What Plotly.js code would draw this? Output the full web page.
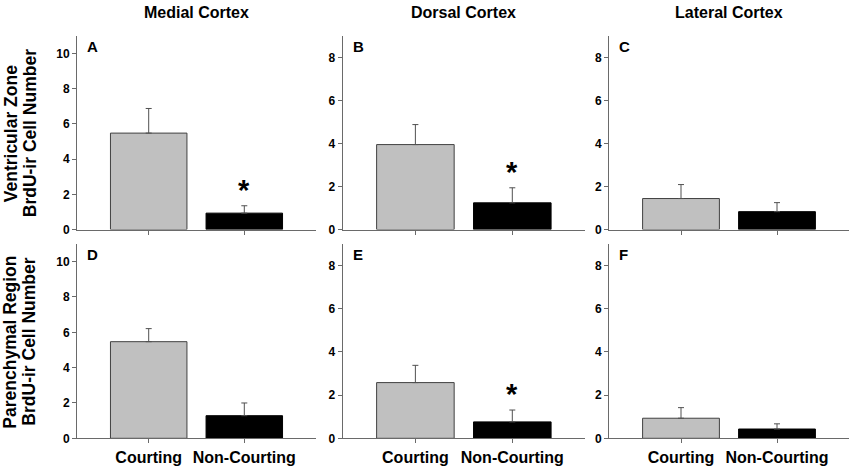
<!DOCTYPE html>
<html>
<head>
<meta charset="utf-8">
<script src="https://cdn.plot.ly/plotly-3.0.1.min.js"></script>
<style>
  html, body { margin: 0; padding: 0; background: #fff; }
  #chart { width: 851px; height: 468px; }
</style>
</head>
<body>
<div id="chart"></div>
<script>
// groups on the x axis
var categories = ["Courting", "Non-Courting"];
var regions = ["Medial Cortex", "Dorsal Cortex", "Lateral Cortex"];
var rowTitles = [
  ["Ventricular Zone", "BrdU-ir Cell Number"],
  ["Parenchymal Region", "BrdU-ir Cell Number"]
];
var panelLetters = ["A", "B", "C", "D", "E", "F"];

// mean BrdU-ir cell number and SEM
var meanA = [5.48, 0.93], errA = [1.40, 0.42];
var meanB = [3.95, 1.24], errB = [0.93, 0.70];
var meanC = [1.44, 0.83], errC = [0.65, 0.42];
var meanD = [5.47, 1.28], errD = [0.74, 0.72];
var meanE = [2.58, 0.76], errE = [0.80, 0.55];
var meanF = [0.93, 0.43], errF = [0.49, 0.24];

var sigA = [false, true], sigB = [false, true], sigC = [false, false];
var sigD = [false, false], sigE = [false, true], sigF = [false, false];

var yMax = [11, 9, 9, 11, 9, 9];

var means = [meanA, meanB, meanC, meanD, meanE, meanF];
var errs = [errA, errB, errC, errD, errE, errF];
var sigs = [sigA, sigB, sigC, sigD, sigE, sigF];

var W = 851, H = 468;
var colPx = [[77, 316], [342.7, 585], [609, 849]];
var rowPx = [[36, 229.5], [244, 438.3]];
var FONT = "Liberation Sans, Arial, sans-serif";
var AXIS_COLOR = "#6a6a6a";
var barColors = ["#c0c0c0", "#000000"];
var barLines = ["#404040", "#000000"];

var traces = [];
var layout = {
  width: W, height: H,
  margin: { t: 0, b: 0, l: 0, r: 0 },
  paper_bgcolor: "#ffffff",
  plot_bgcolor: "#ffffff",
  showlegend: false,
  font: { family: FONT, color: "#000" },
  annotations: []
};

for (var i = 0; i < 6; i++) {
  var r = Math.floor(i / 3), c = i % 3;
  var sfx = i === 0 ? "" : String(i + 1);
  traces.push({
    type: "bar",
    x: categories,
    y: means[i],
    xaxis: "x" + sfx,
    yaxis: "y" + sfx,
    width: 0.8,
    marker: { color: barColors, line: { color: barLines, width: 1 } },
    error_y: {
      type: "data", symmetric: false,
      array: errs[i],
      arrayminus: [0, 0],
      color: "#505050", thickness: 1, width: 3
    },
    hoverinfo: "skip"
  });

  var tv = [];
  for (var t = 0; t <= yMax[i] - 1; t += 2) tv.push(t);

  layout["xaxis" + sfx] = {
    domain: [colPx[c][0] / W, colPx[c][1] / W],
    anchor: "y" + sfx,
    type: "category",
    range: [-0.75, 1.75],
    showline: true, linecolor: AXIS_COLOR, linewidth: 1,
    ticks: "outside", ticklen: 4, tickcolor: AXIS_COLOR,
    showgrid: false, zeroline: false,
    showticklabels: r === 1,
    tickfont: { family: FONT, size: 16, weight: "bold", color: "#000" },
    fixedrange: true
  };
  layout["yaxis" + sfx] = {
    domain: [(H - rowPx[r][1]) / H, (H - rowPx[r][0]) / H],
    anchor: "x" + sfx,
    range: [0, yMax[i]],
    tickvals: tv,
    showline: true, linecolor: AXIS_COLOR, linewidth: 1,
    ticks: "outside", ticklen: 4, tickcolor: AXIS_COLOR,
    showgrid: false, zeroline: false,
    tickfont: { family: FONT, size: 12, weight: "bold", color: "#000" },
    fixedrange: true
  };

  // panel letter
  layout.annotations.push({
    xref: "x" + sfx + " domain", yref: "y" + sfx + " domain",
    x: 0.033, y: 1, xanchor: "left", yanchor: "top", yshift: 0,
    text: panelLetters[i], showarrow: false,
    font: { family: FONT, size: 15, weight: "bold", color: "#000" }
  });

  // significance marks above the error bars
  sigs[i].forEach(function (s, k) {
    if (!s) return;
    layout.annotations.push({
      xref: "x" + sfx, yref: "y" + sfx,
      x: categories[k], y: means[i][k] + errs[i][k],
      xanchor: "center", yanchor: "bottom", yshift: -2,
      text: "*", showarrow: false,
      font: { family: FONT, size: 29, weight: "bold", color: "#000" }
    });
  });
}

// column titles
regions.forEach(function (name, c) {
  layout.annotations.push({
    xref: "paper", yref: "paper",
    x: (colPx[c][0] + colPx[c][1]) / 2 / W, y: (H - 12) / H,
    xanchor: "center", yanchor: "middle",
    text: name, showarrow: false,
    font: { family: FONT, size: 16, weight: "bold", color: "#000" }
  });
});

// row titles, one annotation per line
var lineX = [10.5, 29.5];
rowTitles.forEach(function (lines, r) {
  lines.forEach(function (txt, j) {
    layout.annotations.push({
      xref: "paper", yref: "paper",
      x: lineX[j] / W, y: (H - (rowPx[r][0] + rowPx[r][1]) / 2 - 1) / H,
      xanchor: "center", yanchor: "middle",
      textangle: -90,
      text: txt, showarrow: false,
      font: { family: FONT, size: 17.5, weight: "bold", color: "#000" }
    });
  });
});

Plotly.newPlot("chart", traces, layout, { displayModeBar: false, staticPlot: true });
</script>
</body>
</html>
